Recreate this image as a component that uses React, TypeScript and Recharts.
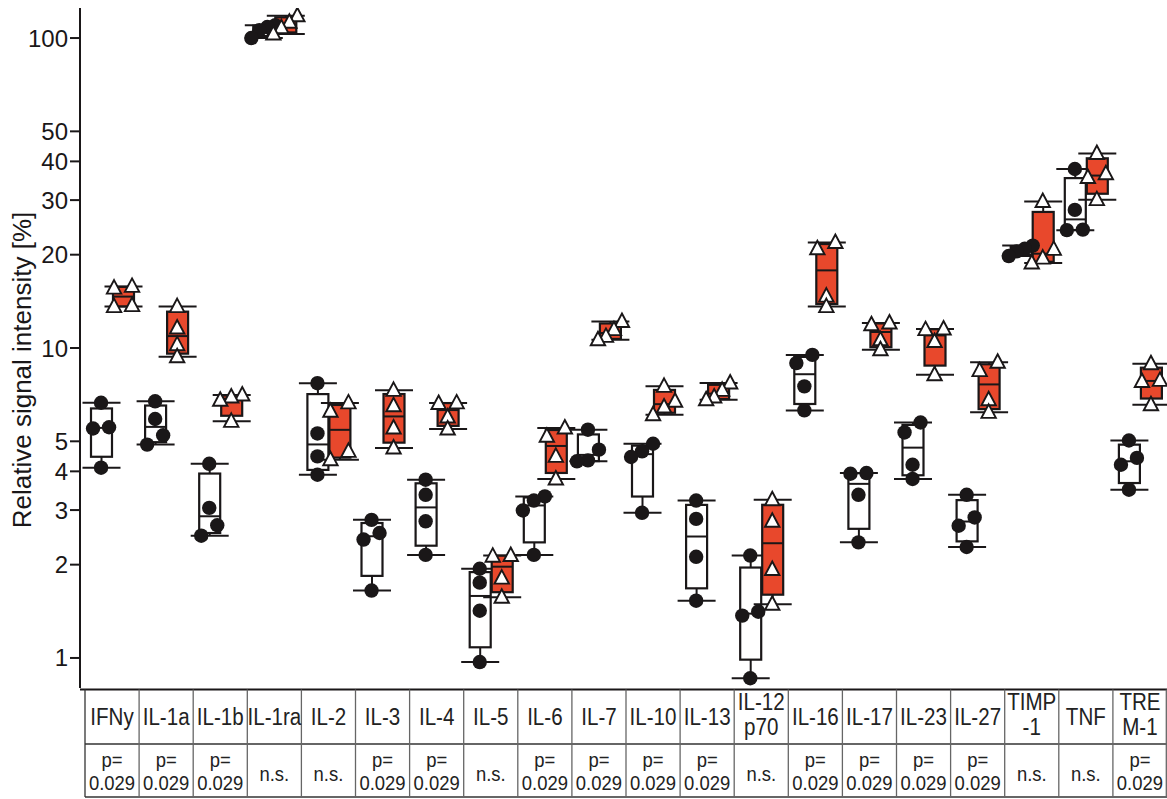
import { ComposedChart, Bar, Scatter, XAxis, YAxis } from "recharts";

// cytokine panel, control (white, circles) vs treated (red, triangles), n=4 each
const categories = [
  "IFNy", "IL-1a", "IL-1b", "IL-1ra", "IL-2", "IL-3", "IL-4", "IL-5", "IL-6", "IL-7",
  "IL-10", "IL-13", "IL-12p70", "IL-16", "IL-17", "IL-23", "IL-27", "TIMP-1", "TNF", "TREM-1",
];

const headerLabels = [
  ["IFNy"], ["IL-1a"], ["IL-1b"], ["IL-1ra"], ["IL-2"], ["IL-3"], ["IL-4"], ["IL-5"], ["IL-6"], ["IL-7"],
  ["IL-10"], ["IL-13"], ["IL-12", "p70"], ["IL-16"], ["IL-17"], ["IL-23"], ["IL-27"], ["TIMP", "-1"], ["TNF"], ["TRE", "M-1"],
];

const pValues = [
  "0.029", "0.029", "0.029", "n.s.", "n.s.", "0.029", "0.029", "n.s.", "0.029", "0.029",
  "0.029", "0.029", "n.s.", "0.029", "0.029", "0.029", "0.029", "n.s.", "n.s.", "0.029",
];

const controlValues = [
  [6.66, 5.55, 5.5, 4.11],
  [6.73, 5.9, 5.23, 4.88],
  [4.23, 3.05, 2.68, 2.48],
  [110, 108.5, 106, 100],
  [7.7, 5.3, 4.47, 3.9],
  [2.79, 2.53, 2.41, 1.65],
  [3.76, 3.36, 2.76, 2.15],
  [1.94, 1.75, 1.42, 0.97],
  [3.32, 3.22, 2.99, 2.15],
  [5.45, 4.7, 4.34, 4.31],
  [4.91, 4.64, 4.45, 2.94],
  [3.22, 2.81, 2.12, 1.53],
  [2.14, 1.41, 1.37, 0.86],
  [9.5, 8.94, 7.52, 6.29],
  [3.95, 3.93, 3.36, 2.36],
  [5.75, 5.34, 4.2, 3.78],
  [3.36, 2.84, 2.67, 2.28],
  [21.4, 20.9, 20.5, 19.8],
  [37.8, 27.9, 24.1, 24.0],
  [5.03, 4.42, 4.2, 3.49],
];

const treatedValues = [
  [15.8, 15.6, 13.7, 13.6],
  [13.6, 11.6, 10.25, 9.37],
  [7.05, 6.95, 6.78, 5.8],
  [118, 112.5, 108, 103],
  [6.65, 6.25, 4.64, 4.36],
  [7.3, 6.51, 5.52, 4.76],
  [6.65, 6.62, 5.99, 5.48],
  [2.14, 2.13, 1.81, 1.57],
  [5.52, 5.19, 4.47, 3.78],
  [12.18, 11.46, 10.9, 10.63],
  [7.52, 6.73, 6.45, 6.09],
  [7.71, 7.3, 6.95, 6.81],
  [3.24, 2.76, 1.93, 1.49],
  [21.9, 20.9, 14.7, 13.6],
  [12.04, 11.89, 10.63, 9.87],
  [11.51, 11.46, 10.5, 8.2],
  [9.0, 8.45, 6.81, 6.2],
  [29.7, 20.8, 19.5, 18.8],
  [42.4, 36.5, 35.5, 30.1],
  [8.9, 7.86, 7.8, 6.56],
];

const yTicks = [1, 2, 3, 4, 5, 10, 20, 30, 40, 50, 100];

const RED = "#e8482c";
const INK = "#1a1718";
const FONT = "'Liberation Sans', Arial, sans-serif";

const W = 1167;
const CHART_H = 690;
const AXIS_W = 80;
const X_PAD = 5;
const BAR_W = 21;
const BAR_GAP = 1;
const CAP_W = 38;
const BAND = (W - AXIS_W - X_PAD) / categories.length;
const TABLE_LEFT = AXIS_W + X_PAD;

type Stats = { min: number; q1: number; med: number; q3: number; max: number };

// quartiles the (n+1)p way, like Prism does
function boxStats(vals: number[]): Stats {
  const s = [...vals].sort((a, b) => a - b);
  const n = s.length;
  const at = (p: number) => {
    const pos = (n + 1) * p - 1;
    const lo = Math.max(0, Math.min(n - 1, Math.floor(pos)));
    const hi = Math.min(n - 1, lo + 1);
    const f = Math.min(1, Math.max(0, pos - lo));
    return s[lo] + (s[hi] - s[lo]) * f;
  };
  return { min: s[0], q1: at(0.25), med: at(0.5), q3: at(0.75), max: s[n - 1] };
}

// spread points that sit too close on the log axis
function jitter(vals: number[], k: number, thr: number, pairStep: number) {
  const order = vals.map((_, i) => i).sort((a, b) => vals[a] - vals[b]);
  const clusters: number[][] = [];
  order.forEach((idx, j) => {
    if (j > 0 && Math.log10(vals[idx]) - Math.log10(vals[order[j - 1]]) < thr) {
      clusters[clusters.length - 1].push(idx);
    } else {
      clusters.push([idx]);
    }
  });
  const c = clusters.find((cl) => cl.includes(k))!;
  const n = c.length;
  if (n === 1) return 0;
  const step = n === 2 ? pairStep : n === 3 ? 11 : 8;
  return (c.indexOf(k) - (n - 1) / 2) * step;
}

const rows = categories.map((name, i) => ({
  name,
  control: controlValues[i],
  treated: treatedValues[i],
  cStat: boxStats(controlValues[i]),
  tStat: boxStats(treatedValues[i]),
}));

const makeBox = (key: "cStat" | "tStat", fill: string) => (props: any) => {
  const { x, y, width, height, payload } = props;
  if (x == null || y == null || !payload) return <g />;
  const st: Stats = payload[key];
  const top = Math.min(y, y + height);
  const h = Math.abs(height);
  const lmax = Math.log10(st.max);
  const lmin = Math.log10(st.min);
  const py = (v: number) => top + ((lmax - Math.log10(v)) / (lmax - lmin)) * h;
  const cx = x + width / 2;
  const yq3 = py(st.q3);
  const yq1 = py(st.q1);
  return (
    <g>
      <line x1={cx} x2={cx} y1={py(st.max)} y2={yq3} stroke={INK} strokeWidth={2} />
      <line x1={cx} x2={cx} y1={yq1} y2={py(st.min)} stroke={INK} strokeWidth={2} />
      <line x1={cx - CAP_W / 2} x2={cx + CAP_W / 2} y1={py(st.max)} y2={py(st.max)} stroke={INK} strokeWidth={2} />
      <line x1={cx - CAP_W / 2} x2={cx + CAP_W / 2} y1={py(st.min)} y2={py(st.min)} stroke={INK} strokeWidth={2} />
      <rect x={x} y={yq3} width={width} height={Math.max(yq1 - yq3, 1)} fill={fill} stroke={INK} strokeWidth={2.2} />
      <line x1={x} x2={x + width} y1={py(st.med)} y2={py(st.med)} stroke={INK} strokeWidth={2} />
    </g>
  );
};

const makeMarker = (key: "control" | "treated", k: number) => (props: any) => {
  const { cx, cy, payload } = props;
  if (cx == null || cy == null || !payload) return <g />;
  const vals: number[] = payload[key];
  const isCtrl = key === "control";
  const off =
    (isCtrl ? -1 : 1) * ((BAR_W + BAR_GAP) / 2) +
    jitter(vals, k, isCtrl ? 0.036 : 0.03, isCtrl ? 16 : 18);
  const px = cx + off;
  if (isCtrl) return <circle cx={px} cy={cy} r={7.2} fill={INK} />;
  return (
    <polygon
      points={`${px},${cy - 8} ${px + 7.2},${cy + 5.5} ${px - 7.2},${cy + 5.5}`}
      fill="#fff"
      stroke={INK}
      strokeWidth={1.9}
      strokeLinejoin="miter"
    />
  );
};

function StatsTable() {
  const top = 1.5;
  const mid = 56;
  const bottom = 109;
  const xs = categories.map((_, i) => TABLE_LEFT + i * BAND);
  return (
    <svg width={W} height={111} style={{ position: "absolute", left: 0, top: 688 }}>
      <line x1={AXIS_W} x2={W} y1={top} y2={top} stroke={INK} strokeWidth={2} />
      <line x1={TABLE_LEFT} x2={W} y1={mid} y2={mid} stroke="#333" strokeWidth={1.3} />
      <line x1={TABLE_LEFT} x2={W} y1={bottom} y2={bottom} stroke="#333" strokeWidth={1.3} />
      {[...xs, W - 0.7].map((x, i) => (
        <line key={i} x1={x} x2={x} y1={top} y2={bottom} stroke={i === 0 ? "#333" : "#666"} strokeWidth={1.3} />
      ))}
      {headerLabels.map((lines, i) => {
        const cx = xs[i] + BAND / 2;
        const ys = lines.length === 1 ? [28.5] : [14, 39];
        return lines.map((t, j) => (
          <text
            key={`${i}-${j}`}
            transform={`translate(${cx},${ys[j]}) scale(0.84,1)`}
            textAnchor="middle"
            dominantBaseline="central"
            fontSize={24.5}
            fontFamily={FONT}
            fill="#222"
          >
            {t}
          </text>
        ));
      })}
      {pValues.map((p, i) => {
        const cx = xs[i] + BAND / 2;
        const lines = p === "n.s." ? [["n.s.", 86]] : [["p=", 72], [p, 95]];
        return lines.map(([t, yy], j) => (
          <text
            key={`p${i}-${j}`}
            transform={`translate(${cx},${yy}) scale(0.9,1)`}
            textAnchor="middle"
            dominantBaseline="central"
            fontSize={20.5}
            fontFamily={FONT}
            fill="#222"
          >
            {t}
          </text>
        ));
      })}
    </svg>
  );
}

export default function App() {
  return (
    <div style={{ position: "absolute", left: 0, top: 0, width: W, height: 799, background: "#fff", fontFamily: FONT }}>
      <ComposedChart
        width={W}
        height={CHART_H}
        data={rows}
        margin={{ top: 8, right: 0, bottom: 2, left: 0 }}
        barSize={BAR_W}
        barGap={BAR_GAP}
      >
        <XAxis dataKey="name" type="category" hide padding={{ left: X_PAD, right: 0 }} />
        <YAxis
          scale="log"
          domain={[0.8, 125]}
          allowDataOverflow
          ticks={yTicks}
          interval={0}
          width={AXIS_W}
          tickSize={10}
          tickMargin={2}
          axisLine={{ stroke: INK, strokeWidth: 2 }}
          tickLine={{ stroke: INK, strokeWidth: 2 }}
          tick={{ fill: INK, fontSize: 24, fontFamily: FONT }}
        />
        <Bar
          dataKey={(r: any) => [r.cStat.min, r.cStat.max]}
          shape={makeBox("cStat", "#fff")}
          isAnimationActive={false}
        />
        <Bar
          dataKey={(r: any) => [r.tStat.min, r.tStat.max]}
          shape={makeBox("tStat", RED)}
          isAnimationActive={false}
        />
        {[0, 1, 2, 3].map((k) => (
          <Scatter
            key={`c${k}`}
            dataKey={(r: any) => r.control[k]}
            shape={makeMarker("control", k)}
            isAnimationActive={false}
          />
        ))}
        {[0, 1, 2, 3].map((k) => (
          <Scatter
            key={`t${k}`}
            dataKey={(r: any) => r.treated[k]}
            shape={makeMarker("treated", k)}
            isAnimationActive={false}
          />
        ))}
      </ComposedChart>
      <div
        style={{
          position: "absolute",
          left: 22,
          top: 370,
          transform: "translate(-50%, -50%) rotate(-90deg)",
          fontSize: 26,
          color: INK,
          whiteSpace: "nowrap",
          lineHeight: 1,
        }}
      >
        Relative signal intensity [%]
      </div>
      <StatsTable />
    </div>
  );
}
